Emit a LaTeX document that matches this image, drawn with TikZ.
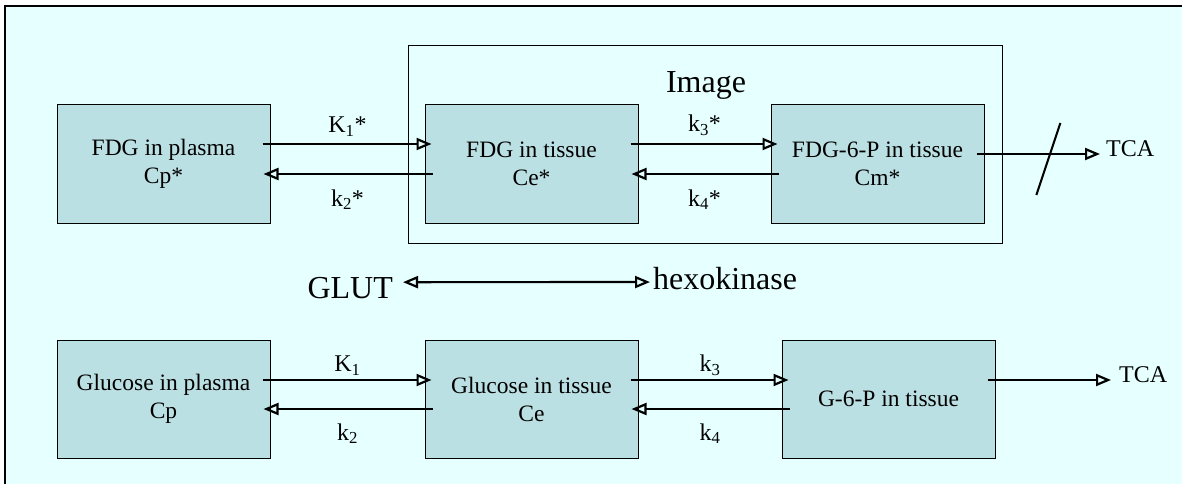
\documentclass[tikz,border=0pt]{standalone}
\usepackage{fontspec}
\setmainfont{Liberation Serif}
\usetikzlibrary{arrows.meta,positioning}
\definecolor{bgcyan}{HTML}{E6FFFF}
\definecolor{boxcyan}{HTML}{BBE0E3}

\begin{document}
\begin{tikzpicture}[x=1pt, y=-1pt, >={Triangle[open,length=15pt,width=12pt]}, line width=2.2pt, node distance=368pt]
	\tikzstyle{every node} = [font=\fontsize{23.5}{28}\selectfont];
	\tikzstyle{pool} = [draw, line width=1pt, fill=boxcyan, minimum width=213pt, minimum height=118pt, align=center];
	\tikzstyle{rate} = [font=\fontsize{24}{26}\selectfont, text depth=0pt];
	\tikzstyle{big} = [font=\fontsize{32}{38}\selectfont, inner sep=0pt];
	\tikzstyle{flow} = [draw, ->, shorten <=-8pt, shorten >=-7pt];
	
	\useasboundingbox (0,0) rectangle (1182,484);
	\clip (0,0) rectangle (1182,484);
	\draw[line width=1.5pt, fill=bgcyan] (5,6) rectangle (1200,500);
	
	\draw[line width=1pt] (408,46) rectangle (1002,243);
	\node[big, anchor=base] (I) at (706,93) {Image};
	
	\node[pool] (A) at (163.5,164) {FDG in plasma\\Cp*};
	\node[pool] (B) [right of=A] {FDG in tissue\\Ce*};
	\node[pool] (C) [right of=B, node distance=346pt] {FDG-6-P in tissue\\Cm*};
	
	\node[pool] (D) at (163.5,399) {Glucose in plasma\\Cp};
	\node[pool] (E) [right of=D] {Glucose in tissue\\Ce};
	\node[pool] (F) [right of=E, node distance=357pt] {G-6-P in tissue};
	
	\node[big, anchor=base east] (G) at (394,298) {GLUT};
	\node[big, anchor=base west] (H) at (652,289) {hexokinase};
	
	\node[rate, anchor=base west, inner sep=0pt] (T) at (1105,156) {TCA};
	\node[rate, anchor=base west, inner sep=0pt] (U) at (1118,382) {TCA};
	
	\path ([yshift=20pt]A.east) edge[flow] node[rate, above=7pt] {K\textsubscript{1}*} ([yshift=20pt]B.west)
		  ([yshift=-10pt]B.west) edge[flow] node[rate, below=11pt] {k\textsubscript{2}*} ([yshift=-10pt]A.east)
		  ([yshift=20pt]B.east) edge[flow] node[rate, above=8pt] {k\textsubscript{3}*} ([yshift=20pt]C.west)
		  ([yshift=-10pt]C.west) edge[flow] node[rate, below=11pt] {k\textsubscript{4}*} ([yshift=-10pt]B.east)
		  ([yshift=10pt]C.east) edge[flow, shorten >=5pt] coordinate[pos=0.53] (X) ([yshift=10pt]C.east -| T.west);
	\draw[line width=2pt] ([shift={(-12,41)}]X) -- ([shift={(12,-31)}]X);
	
	\path ([yshift=19pt]D.east) edge[flow] node[rate, above=4pt] {K\textsubscript{1}} ([yshift=19pt]E.west)
		  ([yshift=-10pt]E.west) edge[flow] node[rate, below=10pt] {k\textsubscript{2}} ([yshift=-10pt]D.east)
		  ([yshift=19pt]E.east) edge[flow] node[rate, above=4pt] {k\textsubscript{3}} ([yshift=19pt]F.west)
		  ([yshift=-10pt]F.west) edge[flow] node[rate, below=10pt] {k\textsubscript{4}} ([yshift=-10pt]E.east)
		  ([yshift=19pt]F.east) edge[flow, shorten >=7pt] ([yshift=19pt]F.east -| U.west);
	
	\path ([yshift=5.4pt]G.east) edge[draw, <->, shorten <=9pt, shorten >=2pt] ([yshift=-4pt]H.west);
\end{tikzpicture}
\end{document}
